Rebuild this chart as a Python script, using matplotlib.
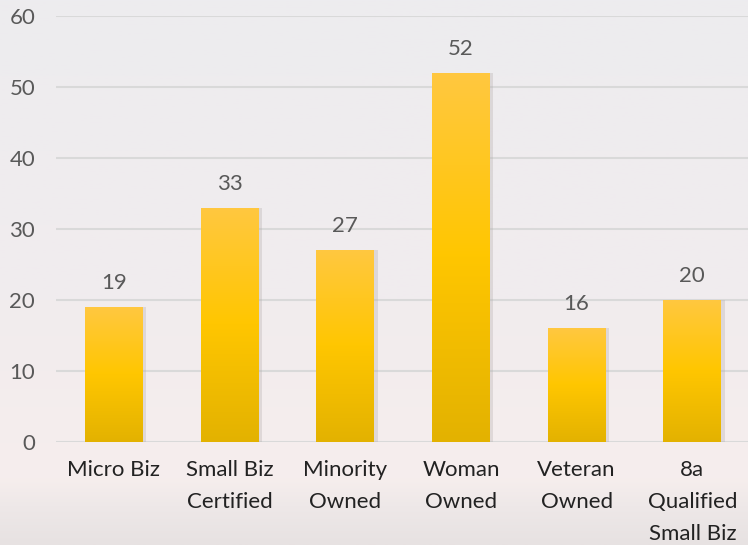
import matplotlib.pyplot as plt
import numpy as np
from matplotlib.colors import LinearSegmentedColormap

categories = ["Micro Biz", "Small Biz\nCertified", "Minority\nOwned", "Woman\nOwned",
              "Veteran\nOwned", "8a\nQualified\nSmall Biz"]
values = [19, 33, 27, 52, 16, 20]
y_ticks = [0, 10, 20, 30, 40, 50, 60]

plt.rcParams['font.family'] = ['Lato', 'DejaVu Sans']

fig = plt.figure(figsize=(7.48, 5.45), dpi=100)

# background: soft sky gradient, hazy hills at the bottom
bg = fig.add_axes([0, 0, 1, 1], zorder=-10)
bg_cmap = LinearSegmentedColormap.from_list(
    "sky", [(0, "#edecef"), (0.55, "#f1ecee"), (0.88, "#f6eeed"),
            (0.93, "#eee8e8"), (1, "#e7e2e2")])
bg.imshow(np.linspace(0, 1, 256).reshape(-1, 1), aspect='auto', cmap=bg_cmap,
          extent=[0, 1, 1, 0])
bg.set_xlim(0, 1)
bg.set_ylim(1, 0)
bg.axis('off')

ax = fig.add_axes([0.0749, 0.189, 0.928, 0.7817])
ax.patch.set_alpha(0)

x = np.arange(len(categories))
bars = ax.bar(x, values, width=0.5, color='#ffc600', zorder=3)

# gold gradient on each bar
bar_cmap = LinearSegmentedColormap.from_list("gold", ["#e3b200", "#ffc600", "#ffc840"])
grad = np.linspace(0, 1, 256).reshape(-1, 1)
for b in bars:
    x0, w, h = b.get_x(), b.get_width(), b.get_height()
    # faint shadow
    ax.bar(x0 + w / 2 + 0.015, h, width=w + 0.03, color='#b0a8a8', alpha=0.3, zorder=2)
    im = ax.imshow(grad, aspect='auto', cmap=bar_cmap, origin='lower',
                   extent=[x0, x0 + w, 0, h], zorder=4)
    im.set_clip_path(b)

for xi, v in zip(x, values):
    ax.annotate(str(v), (xi, v), xytext=(0, 10), textcoords='offset points',
                ha='center', va='bottom', fontsize=16, color='#595959')

ax.set_xlim(-0.5, len(categories) - 0.5)
ax.set_ylim(0, 60)
ax.set_yticks(y_ticks)
ax.set_xticks(x)
ax.set_xticklabels(categories, fontsize=16, color='#222222', linespacing=1.74)
ax.tick_params(axis='y', labelsize=16, labelcolor='#595959', length=0, pad=15)
ax.tick_params(axis='x', length=0, pad=13)
ax.grid(axis='y', color='#d9d9d9', linewidth=1.5, zorder=0)
ax.set_axisbelow(True)
for s in ax.spines.values():
    s.set_visible(False)

fig.savefig('out.png', dpi=100)
